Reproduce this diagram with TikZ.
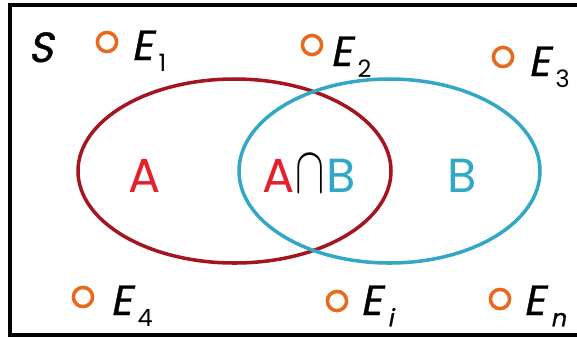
\documentclass[tikz,border=0pt]{standalone}
\usepackage{fontspec}
\setmainfont{Poppins}
\newfontfamily\slfont[FakeSlant=0.2,FakeBold=0.8]{Poppins}

\definecolor{setAline}{HTML}{A3151F}
\definecolor{setAtext}{HTML}{E3202C}
\definecolor{setB}{HTML}{32A8C6}
\definecolor{outcome}{HTML}{E8681C}

% event label E with a lowered index
\newcommand{\evlabel}[1]{{\slfont E}\hspace{4pt}\raisebox{-8pt}{\fontsize{17}{17}\selectfont #1}}

\begin{document}
\begin{tikzpicture}[x=0.025cm,y=-0.025cm,
  frame/.style={draw,black,line width=2.9pt},
  setline/.style={line width=2.5pt},
  pt/.style={circle,draw=outcome,line width=2.5pt,minimum size=0.48cm,inner sep=0pt},
  evt/.style={anchor=base west,inner sep=0pt,font=\fontsize{30}{30}\selectfont},
  setlbl/.style={anchor=base,inner sep=0pt,font=\fontsize{34}{34}\selectfont}]
\path[use as bounding box,clip] (0,0) rectangle (577,338);

\draw[frame] (10,5) rectangle (620,335);
\node[evt] (S) at (28,62) {\slfont S};

% the two sets
\draw[setline,setAline] (234.5,171) ellipse [x radius=156.5,y radius=92];
\draw[setline,setB] (389.5,171) ellipse [x radius=150.5,y radius=92];

\node[setlbl,setAtext] (A) at (145,192) {A};
\node[setlbl] (AB) at (309,192) {\textcolor{setAtext}{A}\hspace{1pt}\scalebox{1.25}[1.9]{$\cap$}\hspace{1pt}\textcolor{setB}{B}};
\node[setlbl,setB] (B) at (462,192) {B};

% sample points
\foreach \cx/\cy/\lx/\ly/\sub/\nm in {107/42/131/60/1/e1, 312/45/330/66/2/e2, 503/57/528/76/3/e3,
  83/297/110/315/4/e4, 337/301/360/315/{\slfont i}/ei, 500/299/523/315/{\slfont n}/en}
{
  \node[pt] (\nm) at (\cx,\cy) {};
  \node[evt] (\nm lbl) at (\lx,\ly) {\evlabel{\sub}};
}
\end{tikzpicture}
\end{document}
